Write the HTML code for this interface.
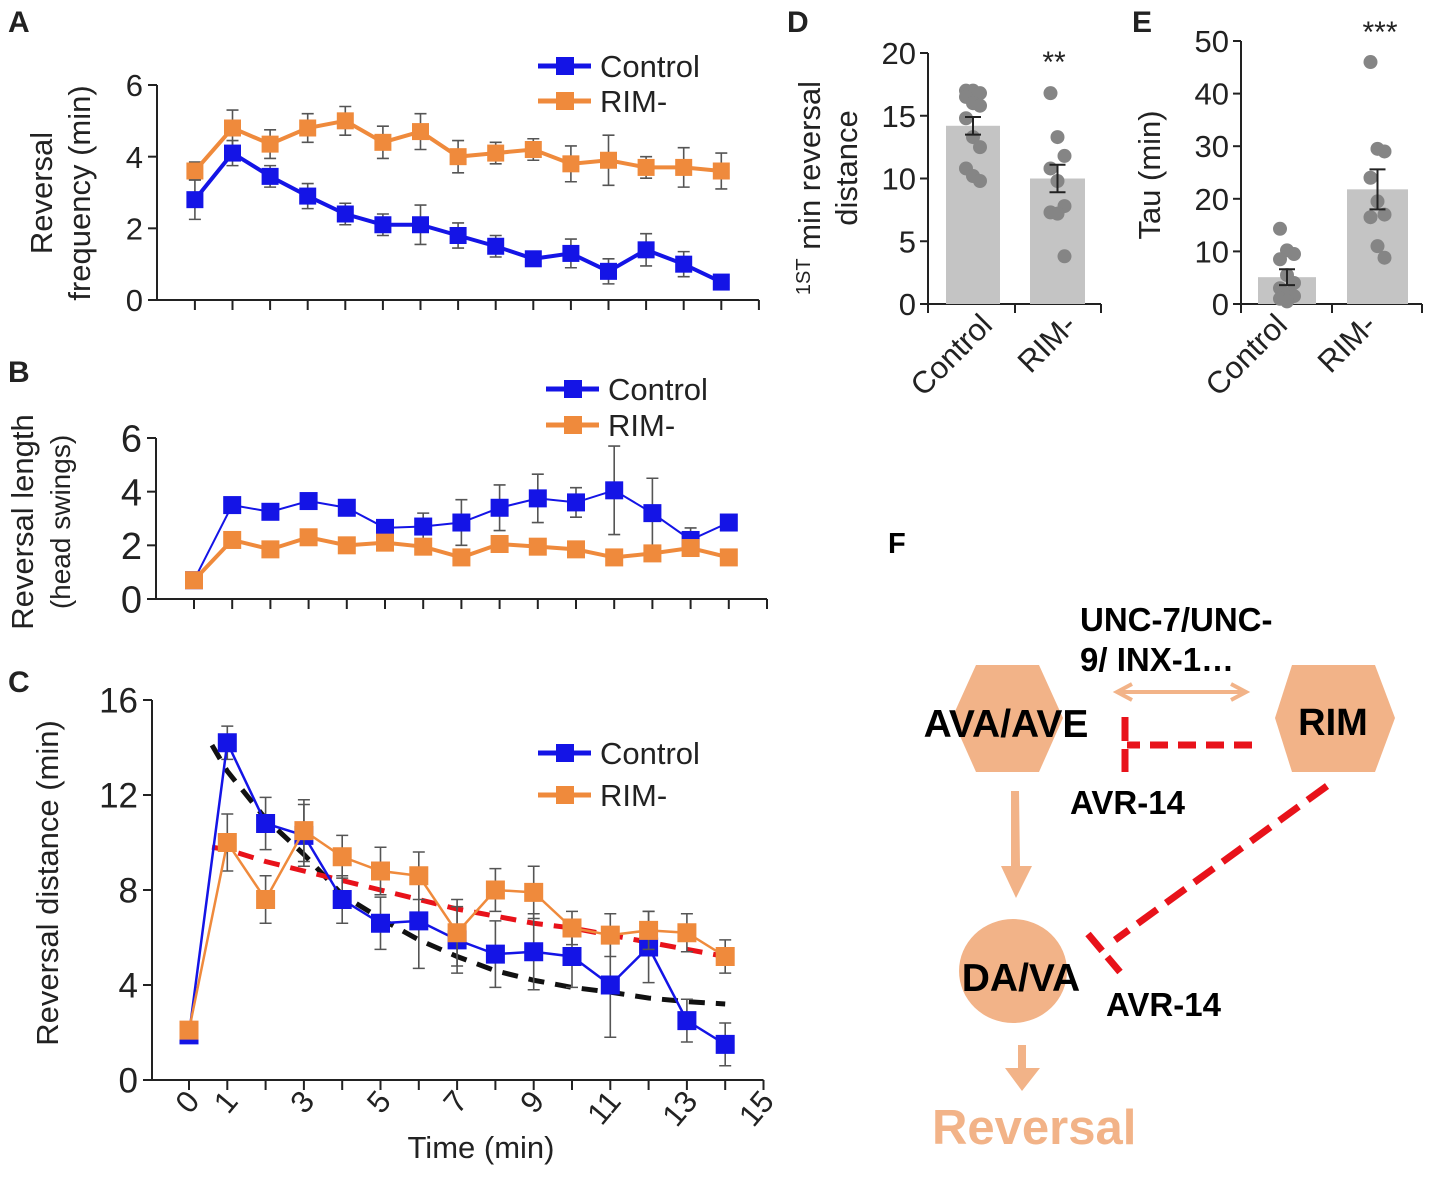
<!DOCTYPE html>
<html><head><meta charset="utf-8"><style>
html,body{margin:0;padding:0;background:#fff;}
svg{display:block;font-family:"Liberation Sans",Arial,sans-serif;}
</style></head><body>
<svg id="fig" width="1429" height="1183" viewBox="0 0 1429 1183" xmlns="http://www.w3.org/2000/svg">
<g id="A"></g>
<g id="B"></g>
<g id="C"></g>
<g id="D"></g>
<g id="E"></g>
<g id="F">
  <text x="888" y="553" font-size="29" font-weight="bold">F</text>
  <text x="1080" y="631" font-size="33" font-weight="bold">UNC-7/UNC-</text>
  <text x="1080" y="671" font-size="33" font-weight="bold">9/ INX-1…</text>
  <polygon points="952,718 976,665 1039,665 1063,718 1039,772 976,772" fill="#f2b388"/>
  <text x="1006" y="737" font-size="39" font-weight="bold" text-anchor="middle">AVA/AVE</text>
  <polygon points="1275,718 1292,665 1375,665 1395,718 1375,772 1292,772" fill="#f2b388"/>
  <text x="1333" y="735" font-size="38" font-weight="bold" text-anchor="middle">RIM</text>
  <g stroke="#f2b388" stroke-width="4" fill="none">
    <line x1="1118" y1="692" x2="1245" y2="692"/>
    <polyline points="1132,684 1117,692 1132,700"/>
    <polyline points="1231,684 1246,692 1231,700"/>
  </g>
  <g stroke="#e8121a" stroke-width="7" fill="none">
    <line x1="1252" y1="745" x2="1127" y2="745" stroke-dasharray="18,10"/>
    <line x1="1125" y1="717" x2="1125" y2="772" stroke-dasharray="24,8"/>
  </g>
  <text x="1070" y="814" font-size="33" font-weight="bold">AVR-14</text>
  <g fill="#f2b388">
    <polygon points="1011,791 1019,791 1020,866 1032,866 1016,898 1001,866 1011,866"/>
  </g>
  <ellipse cx="1013" cy="971" rx="54" ry="52" fill="#f2b388"/>
  <text x="1021" y="991" font-size="39" font-weight="bold" text-anchor="middle">DA/VA</text>
  <g stroke="#e8121a" stroke-width="7" fill="none">
    <line x1="1327" y1="786" x2="1115" y2="940" stroke-dasharray="24,11"/>
    <line x1="1088" y1="934" x2="1120" y2="972" stroke-dasharray="22,8"/>
  </g>
  <text x="1106" y="1016" font-size="33" font-weight="bold">AVR-14</text>
  <polygon points="1018,1045 1026,1045 1026,1068 1040,1068 1022,1091 1005,1068 1018,1068" fill="#f2b388"/>
  <text x="932" y="1144" font-size="49" font-weight="bold" fill="#f2b388">Reversal</text>
</g>
</svg>
<script>
// ---------- data ----------
const timePoints = [0,1,2,3,4,5,6,7,8,9,10,11,12,13,14];
const freqControl = [2.8,4.1,3.45,2.9,2.4,2.1,2.1,1.8,1.5,1.15,1.3,0.8,1.4,1.0,0.5];
const freqControlErr = [0.55,0.35,0.3,0.35,0.3,0.3,0.55,0.35,0.3,0.2,0.4,0.35,0.45,0.35,0.15];
const freqRim = [3.6,4.8,4.35,4.8,5.0,4.4,4.7,4.0,4.1,4.2,3.8,3.9,3.7,3.7,3.6];
const freqRimErr = [0.25,0.5,0.4,0.4,0.4,0.45,0.5,0.45,0.3,0.3,0.5,0.7,0.3,0.55,0.5];
const lenControl = [0.7,3.5,3.25,3.65,3.4,2.65,2.7,2.85,3.4,3.75,3.6,4.05,3.2,2.2,2.85];
const lenControlErr = [0.05,0.1,0.1,0.1,0.1,0.1,0.5,0.85,0.85,0.9,0.55,1.65,1.3,0.45,0.1];
const lenRim = [0.7,2.2,1.85,2.3,2.0,2.1,1.95,1.55,2.05,1.95,1.85,1.55,1.7,1.9,1.55];
const lenRimErr = [0.05,0.15,0.15,0.15,0.15,0.15,0.15,0.15,0.15,0.15,0.15,0.15,0.15,0.15,0.15];
const distControl = [1.9,14.2,10.8,10.3,7.6,6.6,6.7,5.9,5.3,5.4,5.2,4.0,5.6,2.5,1.5];
const distControlErr = [0.3,0.7,1.1,1.3,1.0,1.1,2.0,1.4,1.4,1.6,1.3,2.2,1.5,0.9,0.9];
const distRim = [2.1,10.0,7.6,10.5,9.4,8.8,8.6,6.2,8.0,7.9,6.4,6.1,6.3,6.2,5.2];
const distRimErr = [0.3,1.2,1.0,1.3,0.9,1.0,1.0,1.4,0.9,1.1,0.7,0.9,0.8,0.8,0.7];
const fitTimes = [0.6,1,2,3,4,5,6,7,8,9,10,11,12,13,14];
const fitControl = [14.1,13.0,11.0,9.5,7.8,6.8,5.9,5.2,4.6,4.2,3.9,3.7,3.45,3.3,3.2];
const fitRim = [9.8,9.7,9.2,8.8,8.4,8.0,7.6,7.2,6.9,6.6,6.4,6.1,5.8,5.5,5.2];
const barGroups = ["Control","RIM-"];
const firstMinMeans = [14.2,10.0];
const firstMinErr = [0.7,1.1];
const firstMinControlDots = [17,17,16.8,16.5,16,15.8,14.8,13.3,12.5,10.8,10.2,9.8];
const firstMinRimDots = [16.8,13.3,11.8,10.8,9.8,7.8,7.3,7.2,3.8];
const tauMeans = [5.1,21.8];
const tauErr = [1.5,3.8];
const tauControlDots = [14.3,10.2,9.5,8.5,5.5,4,3,2,1.5,1,0.5];
const tauRimDots = [46,29.5,29,24,19.5,17,16.5,11,8.8];
const ticksA = [0,2,4,6];
const ticksB = [0,2,4,6];
const ticksC = [0,4,8,12,16];
const xLabelsC = [0,1,3,5,7,9,11,13,15];
const ticksD = [0,5,10,15,20];
const ticksE = [0,10,20,30,40,50];

const NS="http://www.w3.org/2000/svg";
const BLUE="#1414e6", ORANGE="#ef8a3c", GRAY="#555";
function mk(parent,tag,attrs,text){const e=document.createElementNS(NS,tag);for(const k in attrs)e.setAttribute(k,attrs[k]);if(text!==undefined)e.textContent=text;parent.appendChild(e);return e;}

function linePanel(g,cfg){
  const sx=t=>cfg.x0+t*cfg.dx, sy=v=>cfg.y0-(v/cfg.ymax)*(cfg.y0-cfg.yTop);
  const ax=mk(g,'path',{d:`M${cfg.axX},${sy(cfg.ymax)} L${cfg.axX},${cfg.y0} L${sx(15)},${cfg.y0}`,stroke:'#222','stroke-width':2,fill:'none'});
  
  
  for(let t=0;t<=15;t++){const tk=mk(g,'line',{x1:sx(t),x2:sx(t),y1:cfg.y0,y2:cfg.y0+10,stroke:'#222','stroke-width':2});
    
    }
  cfg.yticks.forEach(v=>{
    const tk=mk(g,'line',{x1:cfg.axX-9,x2:cfg.axX,y1:sy(v),y2:sy(v),stroke:'#222','stroke-width':2});
    
    
    const tl=mk(g,'text',{x:cfg.axX-14,y:sy(v)+cfg.fs*0.36,'font-size':cfg.fs,'text-anchor':'end',fill:'#222'},String(v));
    
    
  });
  (cfg.fits||[]).forEach(f=>{
    const p=mk(g,'polyline',{points:fitTimes.map((t,i)=>sx(t)+','+sy(f.vals[i])).join(' '),stroke:f.color,'stroke-width':5,fill:'none','stroke-dasharray':'16,11'});
    
    
  });
  cfg.series.forEach(s=>{
    const sg=mk(g,'g',{});
    
    
    timePoints.forEach((t,i)=>{const x=sx(t),y1=sy(s.vals[i]+s.err[i]),y2=sy(Math.max(0,s.vals[i]-s.err[i]));
      const eb=mk(sg,'path',{d:`M${x},${y1} L${x},${y2} M${x-6},${y1} L${x+6},${y1} M${x-6},${y2} L${x+6},${y2}`,stroke:GRAY,'stroke-width':1.6,fill:'none'});
      
      });
    const pl=mk(sg,'polyline',{points:timePoints.map((t,i)=>sx(t)+','+sy(s.vals[i])).join(' '),stroke:s.color,'stroke-width':s.lw,fill:'none'});
    
    
    timePoints.forEach((t,i)=>{const m=cfg.ms;const r=mk(sg,'rect',{x:sx(t)-m/2,y:sy(s.vals[i])-m/2,width:m,height:m,fill:s.color});
      
      });
  });
  cfg.legend.forEach((L,i)=>{
    const y=L.y;
    const lg=mk(g,'g',{});
    
    
    mk(lg,'line',{x1:L.x,x2:L.x+53,y1:y,y2:y,stroke:L.color,'stroke-width':5});
    mk(lg,'rect',{x:L.x+18,y:y-9,width:18,height:18,fill:L.color});
    mk(lg,'text',{x:L.x+62,y:y+11,'font-size':31,fill:'#222'},L.label);
  });
}

linePanel(document.getElementById('A'),{x0:194.9,dx:37.6,axX:157,y0:300,yTop:85,ymax:6,yticks:ticksA,fs:31,ms:17,
  series:[{name:'series-rim',vals:freqRim,err:freqRimErr,color:ORANGE,lw:4},{name:'series-control',vals:freqControl,err:freqControlErr,color:BLUE,lw:4}],
  legend:[{x:538,y:66,color:BLUE,label:'Control'},{x:538,y:101,color:ORANGE,label:'RIM-'}]});
linePanel(document.getElementById('B'),{x0:194,dx:38.2,axX:156,y0:599,yTop:438,ymax:6,yticks:ticksB,fs:38,ms:18,
  series:[{name:'series-control',vals:lenControl,err:lenControlErr,color:BLUE,lw:2},{name:'series-rim',vals:lenRim,err:lenRimErr,color:ORANGE,lw:4}],
  legend:[{x:546,y:389,color:BLUE,label:'Control'},{x:546,y:425,color:ORANGE,label:'RIM-'}]});
linePanel(document.getElementById('C'),{x0:189,dx:38.3,axX:152,y0:1080,yTop:700,ymax:16,yticks:ticksC,fs:35,ms:19,
  fits:[{name:'fit-control',vals:fitControl,color:'#111'},{name:'fit-rim',vals:fitRim,color:'#e8121a'}],
  series:[{name:'series-control',vals:distControl,err:distControlErr,color:BLUE,lw:2.5},{name:'series-rim',vals:distRim,err:distRimErr,color:ORANGE,lw:2.5}],
  legend:[{x:538,y:753,color:BLUE,label:'Control'},{x:538,y:795,color:ORANGE,label:'RIM-'}]});

const gA=document.getElementById('A'),gB=document.getElementById('B'),gC=document.getElementById('C');
function txt(g,x,y,s,attrs,name){const t=mk(g,'text',Object.assign({x:x,y:y,fill:'#222'},attrs),s);return t;}
txt(gA,8,32,'A',{'font-size':30,'font-weight':'bold'},'panel-label-a');
txt(gB,8,382,'B',{'font-size':30,'font-weight':'bold'},'panel-label-b');
txt(gC,8,692,'C',{'font-size':30,'font-weight':'bold'},'panel-label-c');
txt(gA,0,0,'Reversal',{'font-size':31,'text-anchor':'middle',transform:'translate(52,193) rotate(-90)'},'y-axis-title-a');
txt(gA,0,0,'frequency  (min)',{'font-size':31,'text-anchor':'middle',transform:'translate(90,193) rotate(-90)'},'y-axis-title-a-2');
txt(gB,0,0,'Reversal length',{'font-size':31,'text-anchor':'middle',transform:'translate(33,522) rotate(-90)'},'y-axis-title-b');
txt(gB,0,0,'(head swings)',{'font-size':28,'text-anchor':'middle',transform:'translate(70,522) rotate(-90)'},'y-axis-title-b-2');
txt(gC,0,0,'Reversal  distance  (min)',{'font-size':31,'text-anchor':'middle',transform:'translate(58,883) rotate(-90)'},'y-axis-title-c');
xLabelsC.forEach(v=>{const x=189+v*38.3;txt(gC,0,0,String(v),{'font-size':31,'text-anchor':'end',transform:`translate(${x+12},${1102}) rotate(-50)`},'x-tick-label');});
txt(gC,481,1158,'Time (min)',{'font-size':31,'text-anchor':'middle'},'x-axis-title');

function barPanel(g,cfg){
  const sy=v=>cfg.y0-(v/cfg.ymax)*(cfg.y0-cfg.yTop);
  const ax=mk(g,'path',{d:`M${cfg.axX},${cfg.yTop} L${cfg.axX},${cfg.y0} L${cfg.xEnd},${cfg.y0}`,stroke:'#222','stroke-width':2,fill:'none'});
  
  
  [cfg.axX,cfg.mid,cfg.xEnd].forEach(x=>{const t=mk(g,'line',{x1:x,x2:x,y1:cfg.y0,y2:cfg.y0+9,stroke:'#222','stroke-width':2});
    
    });
  cfg.yticks.forEach(v=>{
    const t=mk(g,'line',{x1:cfg.axX-8,x2:cfg.axX,y1:sy(v),y2:sy(v),stroke:'#222','stroke-width':2});
    
    
    txt(g,cfg.axX-12,sy(v)+11,String(v),{'font-size':31,'text-anchor':'end'},'y-tick-label');
  });
  barGroups.forEach((name,i)=>{
    const b=cfg.bars[i];
    const r=mk(g,'rect',{x:b[0],y:sy(cfg.means[i]),width:b[1]-b[0],height:cfg.y0-sy(cfg.means[i]),fill:'#c4c4c4'});
    
    
    const cx=(b[0]+b[1])/2, y1=sy(cfg.means[i]+cfg.err[i]), y2=sy(cfg.means[i]-cfg.err[i]);
    cfg.dots[i].forEach((v,j)=>{const d=mk(g,'circle',{cx:cx+((j%3)-1)*7,cy:sy(v),r:7,fill:'#858585'});
      
      });
    const eb=mk(g,'path',{d:`M${cx},${y1} L${cx},${y2} M${cx-8},${y1} L${cx+8},${y1} M${cx-8},${y2} L${cx+8},${y2}`,stroke:'#222','stroke-width':2,fill:'none'});
    
    
    txt(g,0,0,name,{'font-size':31,'text-anchor':'end',transform:`translate(${cfg.labX[i]},327) rotate(-45)`},'x-tick-label');
  });
  txt(g,cfg.starX,cfg.starY,cfg.star,{'font-size':30,'text-anchor':'middle'},'significance-stars');
}
const gD=document.getElementById('D'),gE=document.getElementById('E');
barPanel(gD,{axX:928,xEnd:1101,mid:1015,y0:304,yTop:53,ymax:20,yticks:ticksD,bars:[[946,1000],[1030,1085]],means:firstMinMeans,err:firstMinErr,dots:[firstMinControlDots,firstMinRimDots],labX:[994,1078],star:'**',starX:1054,starY:72});
barPanel(gE,{axX:1241,xEnd:1422,mid:1332,y0:304,yTop:41,ymax:50,yticks:ticksE,bars:[[1258,1316],[1347,1408]],means:tauMeans,err:tauErr,dots:[tauControlDots,tauRimDots],labX:[1289,1378],star:'***',starX:1380,starY:42});
txt(gD,787,32,'D',{'font-size':30,'font-weight':'bold'},'panel-label-d');
txt(gE,1132,32,'E',{'font-size':30,'font-weight':'bold'},'panel-label-e');
txt(gE,0,0,'Tau (min)',{'font-size':31,'text-anchor':'middle',transform:'translate(1160,175) rotate(-90)'},'y-axis-title-e');
const dt=txt(gD,0,0,'',{'font-size':31,'text-anchor':'middle',transform:'translate(820,188) rotate(-90)'},'y-axis-title-d');
mk(dt,'tspan',{'font-size':20,dy:'-10'},'1ST');
mk(dt,'tspan',{dy:'10'},' min reversal');
txt(gD,0,0,'distance',{'font-size':31,'text-anchor':'middle',transform:'translate(857,168) rotate(-90)'},'y-axis-title-d-2');
</script>
</body></html>
